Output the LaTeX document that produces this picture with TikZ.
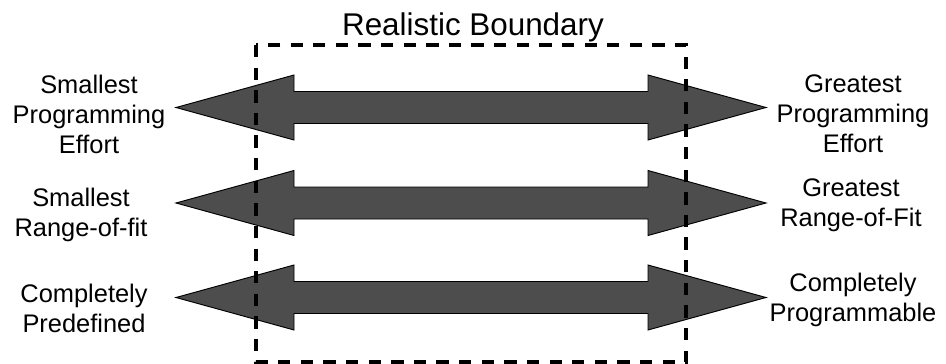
\documentclass[tikz,border=0pt]{standalone}
\usepackage{fontspec}
\setmainfont{Liberation Sans}
\usepackage{tikz}
\usetikzlibrary{calc, positioning}
\definecolor{arrowgrey}{HTML}{4D4D4D}
\newcommand{\fsLabel}{\fontsize{21.7}{25.5}\selectfont}
\newcommand{\fsTitle}{\fontsize{26.8}{31}\selectfont}

\begin{document}
\begin{tikzpicture}[x=0.03cm, y=-0.03cm]
  \useasboundingbox (0,0) rectangle (946,364);
  \def\TipL{176}\def\BaseL{294}\def\BaseR{648}\def\TipR{766}
  \def\ShaftHW{16}\def\HeadHW{32.5}
  \newcommand{\rangeArrow}[1]{%
    \filldraw[fill=arrowgrey, draw=black, line width=0.8pt, line join=miter]
      (\TipL,#1) -- (\BaseL,#1-\HeadHW) -- (\BaseL,#1-\ShaftHW)
      -- (\BaseR,#1-\ShaftHW) -- (\BaseR,#1-\HeadHW) -- (\TipR,#1)
      -- (\BaseR,#1+\HeadHW) -- (\BaseR,#1+\ShaftHW)
      -- (\BaseL,#1+\ShaftHW) -- (\BaseL,#1+\HeadHW) -- cycle;
  }
  \foreach \y in {107.5, 203, 297.5}{
    \rangeArrow{\y}
  }
  \tikzset{endlabel/.style={font=\fsLabel, align=center, anchor=north, inner sep=0pt}}
  \node[endlabel] (lo1) at (89,75) {Smallest\\Programming\\Effort};
  \node[endlabel] (lo2) at (81,187.5) {Smallest\\Range-of-fit};
  \node[endlabel] (lo3) at (84,283.5) {Completely\\Predefined};
  \node[endlabel] (hi1) at (853,75) {Greatest\\Programming\\Effort};
  \node[endlabel] (hi2) at (851,178.5) {Greatest\\Range-of-Fit};
  \node[endlabel] (hi3) at (853,272.5) {Completely\\Programmable};
  \node[font=\fsTitle, anchor=north, inner sep=0pt] (title) at (473,13) {Realistic Boundary};
  \draw[black, line width=3pt, dash pattern=on 10.5pt off 8.8pt]
    (256,45) rectangle (686,362);
\end{tikzpicture}
\end{document}
